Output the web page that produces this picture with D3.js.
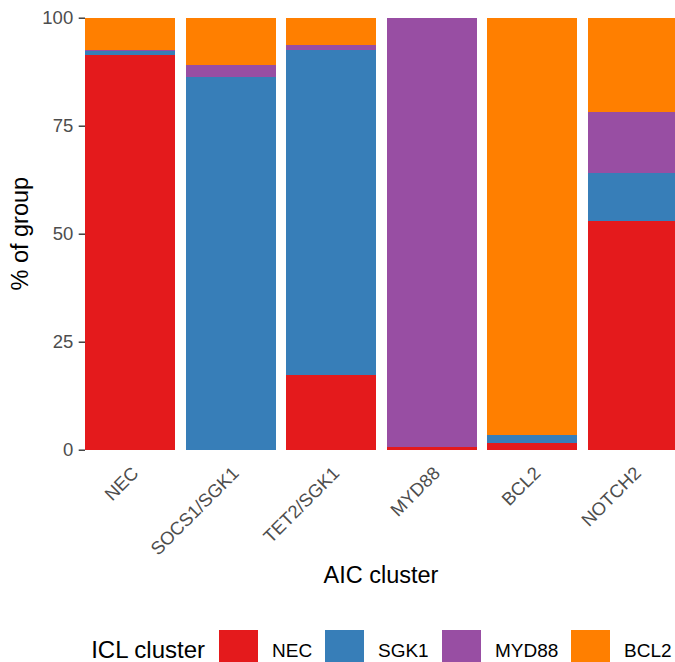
<!DOCTYPE html>
<html>
<head>
<meta charset="utf-8">
<script src="https://cdn.jsdelivr.net/npm/d3@7"></script>
<style>
  html, body { margin: 0; padding: 0; background: #fff; }
  svg { display: block; font-family: "Liberation Sans", Arial, Helvetica, sans-serif; }
</style>
</head>
<body>
<svg id="chart" width="675" height="662"></svg>
<script>
// ---- data ----
const categories = ["NEC", "SOCS1/SGK1", "TET2/SGK1", "MYD88", "BCL2", "NOTCH2"];
const seriesNames = ["NEC", "SGK1", "MYD88", "BCL2"];
const necValues   = [91.4, 0.0, 17.4, 0.6, 1.5, 52.9];
const sgk1Values  = [0.8, 86.2, 75.1, 0.0, 1.9, 11.1];
const myd88Values = [0.4, 2.9, 1.2, 99.4, 0.0, 14.1];
const bcl2Values  = [7.4, 10.9, 6.3, 0.0, 96.6, 21.9];
const seriesColors = ["#E41A1C", "#377EB8", "#984EA3", "#FF7F00"];
const yTicks = [0, 25, 50, 75, 100];
const xTitle = "AIC cluster";
const yTitle = "% of group";
const legendTitle = "ICL cluster";

// ---- build table ----
const seriesValues = [necValues, sgk1Values, myd88Values, bcl2Values];
const table = categories.map((c, i) => {
  const row = { cat: c };
  seriesNames.forEach((s, j) => { row[s] = seriesValues[j][i]; });
  return row;
});
const stacked = d3.stack().keys(seriesNames)(table);

// ---- layout ----
const svg = d3.select("#chart");
const panel = { left: 85, right: 678, top: 17.7, bottom: 449.7 };

const x = d3.scaleBand().domain(categories)
  .range([panel.left, panel.right]).paddingInner(0.1).paddingOuter(0);
const y = d3.scaleLinear().domain([0, 100]).range([panel.bottom, panel.top]);
const color = d3.scaleOrdinal().domain(seriesNames).range(seriesColors);

// bars
svg.append("g").selectAll("g").data(stacked).join("g")
  .attr("fill", d => color(d.key))
  .selectAll("rect").data(d => d).join("rect")
  .attr("x", d => x(d.data.cat))
  .attr("width", x.bandwidth())
  .attr("y", d => y(d[1]))
  .attr("height", d => Math.max(0, y(d[0]) - y(d[1])))
  .attr("shape-rendering", "crispEdges");

// y axis
const yAxis = d3.axisLeft(y).tickValues(yTicks).tickSize(6.3).tickPadding(5.5);
const yg = svg.append("g").attr("transform", `translate(${panel.left},0)`).call(yAxis);
yg.select(".domain").remove();
yg.selectAll(".tick line").attr("stroke", "#333333").attr("stroke-width", 1.4);
yg.selectAll(".tick text").attr("fill", "#4D4D4D").attr("font-size", "18.5px")
  .attr("font-family", "Liberation Sans, Arial, sans-serif");

// x axis labels (rotated)
const xg = svg.append("g");
xg.selectAll("text").data(categories).join("text")
  .attr("transform", d => `translate(${x(d) + x.bandwidth() / 2},465) rotate(-45)`)
  .attr("text-anchor", "end")
  .attr("dy", "0.72em")
  .attr("fill", "#4D4D4D")
  .attr("font-size", "18.3px")
  .text(d => d);

// axis titles
svg.append("text")
  .attr("x", (panel.left + panel.right) / 2 - 0.5)
  .attr("y", 583)
  .attr("text-anchor", "middle")
  .attr("font-size", "23.5px")
  .attr("fill", "#000")
  .text(xTitle);

svg.append("text")
  .attr("transform", `translate(28,${(panel.top + panel.bottom) / 2}) rotate(-90)`)
  .attr("text-anchor", "middle")
  .attr("font-size", "23.5px")
  .attr("fill", "#000")
  .text(yTitle);

// legend
const legendKeyX = [219, 325, 442, 571];
const lg = svg.append("g");
lg.append("text")
  .attr("x", 205).attr("y", 658)
  .attr("text-anchor", "end")
  .attr("font-size", "24px")
  .attr("fill", "#000")
  .text(legendTitle);
const items = lg.selectAll("g.item").data(seriesNames).join("g").attr("class", "item")
  .attr("transform", (d, i) => `translate(${legendKeyX[i]},630)`);
items.append("rect")
  .attr("width", 39).attr("height", 39)
  .attr("fill", d => color(d));
items.append("text")
  .attr("x", 53).attr("y", 27)
  .attr("font-size", "19px")
  .attr("fill", "#000")
  .text(d => d);
</script>
</body>
</html>
